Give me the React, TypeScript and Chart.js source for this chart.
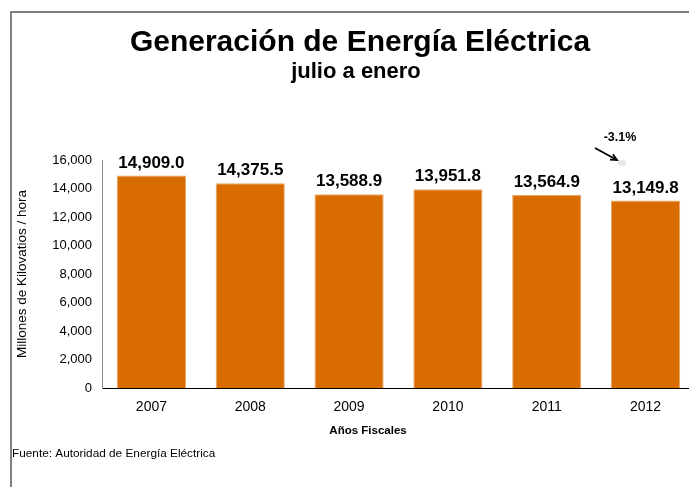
import React, { useEffect, useRef } from "react";
import { Chart, registerables } from "chart.js";

Chart.register(...registerables);

const categories = ["2007", "2008", "2009", "2010", "2011", "2012"];
const values = [14909.0, 14375.5, 13588.9, 13951.8, 13564.9, 13149.8];
const valueLabels = ["14,909.0", "14,375.5", "13,588.9", "13,951.8", "13,564.9", "13,149.8"];
const yMin = 0;
const yMax = 16000;
const yStep = 2000;
const titleText = "Generación de Energía Eléctrica";
const subtitleText = "julio a enero";
const yAxisTitle = "Millones de Kilovatios / hora";
const xAxisTitle = "Años Fiscales";
const sourceText = "Fuente: Autoridad de Energía Eléctrica";
const changeText = "-3.1%";

const FONT = '"Liberation Sans", Arial, Helvetica, sans-serif';
const BAR_COLOR = "#D96C00";
const CANVAS_W = 710;
const CANVAS_H = 487;

const valueLabelPlugin = {
  id: "valueLabels",
  afterDatasetsDraw(chart: any) {
    const ctx = chart.ctx;
    const meta = chart.getDatasetMeta(0);
    ctx.save();
    ctx.font = `bold 17px ${FONT}`;
    ctx.fillStyle = "#000";
    ctx.textAlign = "center";
    ctx.textBaseline = "alphabetic";
    meta.data.forEach((bar: any, i: number) => {
      ctx.fillText(valueLabels[i], bar.x, bar.y - 8);
    });
    ctx.restore();
  },
};

const textPlugin = {
  id: "texts",
  afterDraw(chart: any) {
    const ctx = chart.ctx;
    ctx.save();
    ctx.fillStyle = "#000";
    ctx.textBaseline = "alphabetic";
    ctx.textAlign = "center";
    ctx.font = `bold 30px ${FONT}`;
    ctx.fillText(titleText, 360, 51);
    ctx.font = `bold 22px ${FONT}`;
    ctx.fillText(subtitleText, 356, 78);
    ctx.font = `bold 11.5px ${FONT}`;
    ctx.fillText(xAxisTitle, 368, 434);
    ctx.textAlign = "left";
    ctx.font = `11.8px ${FONT}`;
    ctx.fillText(sourceText, 12, 457);

    // change annotation
    ctx.textAlign = "center";
    ctx.font = `bold 12.5px ${FONT}`;
    ctx.fillText(changeText, 620, 141);
    // faint blob
    ctx.fillStyle = "rgba(225,225,225,0.8)";
    ctx.beginPath();
    ctx.ellipse(622, 163, 4, 3, 0, 0, Math.PI * 2);
    ctx.fill();
    // arrow
    const x1 = 595, y1 = 148, x2 = 617, y2 = 160;
    ctx.strokeStyle = "#000";
    ctx.lineWidth = 1.8;
    ctx.beginPath();
    ctx.moveTo(x1, y1);
    ctx.lineTo(x2, y2);
    ctx.stroke();
    const ang = Math.atan2(y2 - y1, x2 - x1);
    const hl = 7;
    ctx.beginPath();
    ctx.moveTo(x2 - hl * Math.cos(ang - 0.45), y2 - hl * Math.sin(ang - 0.45));
    ctx.lineTo(x2, y2);
    ctx.lineTo(x2 - hl * Math.cos(ang + 0.45), y2 - hl * Math.sin(ang + 0.45));
    ctx.stroke();
    ctx.restore();
  },
};

function ChartCanvas() {
  const ref = useRef<HTMLCanvasElement | null>(null);
  useEffect(() => {
    if (!ref.current) return;
    const chart = new Chart(ref.current, {
      type: "bar",
      data: {
        labels: categories,
        datasets: [
          {
            data: values,
            backgroundColor: BAR_COLOR,
            borderColor: "#E9A667",
            borderWidth: 1,
            categoryPercentage: 0.7,
            barPercentage: 1,
          },
        ],
      },
      options: {
        responsive: false,
        animation: false,
        devicePixelRatio: 1,
        locale: "en-US",
        layout: { padding: { left: 7, right: 15, top: 160, bottom: 0 } },
        plugins: {
          legend: { display: false },
          tooltip: { enabled: false },
          title: { display: false },
        },
        scales: {
          x: {
            grid: { display: false, drawTicks: false },
            border: { display: true, color: "#000", width: 1 },
            ticks: { color: "#000", font: { family: FONT, size: 14 }, padding: 11, maxRotation: 0 },
            afterFit: (s: any) => {
              s.height = 99;
            },
          },
          y: {
            min: yMin,
            max: yMax,
            grid: { display: false, drawTicks: false },
            border: { display: true, color: "#8a8a8a", width: 1 },
            ticks: { stepSize: yStep, color: "#000", font: { family: FONT, size: 13 }, padding: 10 },
            title: {
              display: true,
              text: yAxisTitle,
              color: "#000",
              font: { family: FONT, size: 13.5 },
              padding: { top: 7, bottom: 0 },
            },
            afterFit: (s: any) => {
              s.width = 95;
            },
          },
        },
      },
      plugins: [valueLabelPlugin, textPlugin],
    } as any);
    return () => chart.destroy();
  }, []);
  return (
    <canvas
      ref={ref}
      width={CANVAS_W}
      height={CANVAS_H}
      style={{ position: "absolute", left: 0, top: 0, width: CANVAS_W, height: CANVAS_H }}
    />
  );
}

export default function App() {
  return (
    <div
      style={{
        position: "fixed",
        left: 0,
        top: 0,
        width: 689,
        height: 487,
        overflow: "hidden",
        background: "#fff",
      }}
    >
      <div
        style={{
          position: "absolute",
          left: 10,
          top: 11,
          width: 1000,
          height: 1000,
          borderTop: "2px solid #808080",
          borderLeft: "2px solid #808080",
        }}
      />
      <ChartCanvas />
    </div>
  );
}
